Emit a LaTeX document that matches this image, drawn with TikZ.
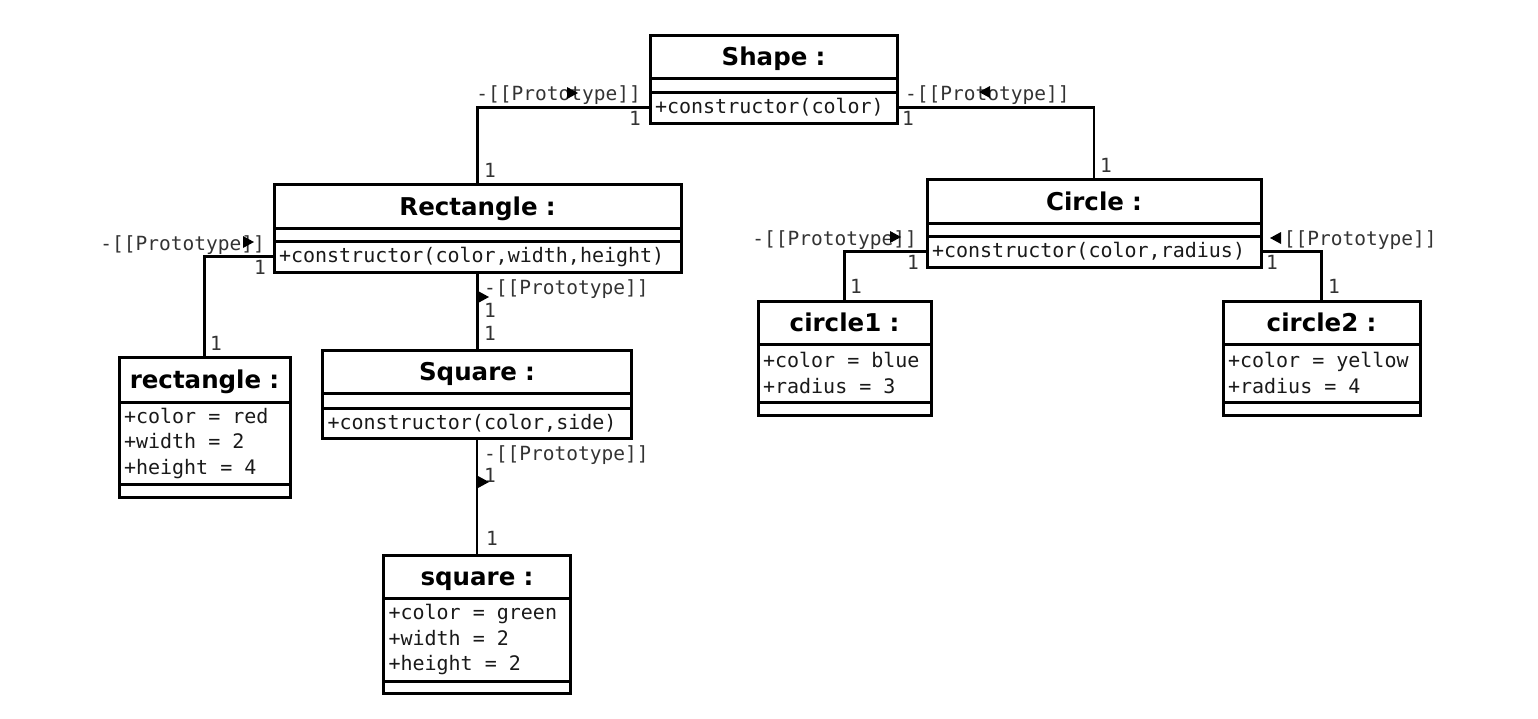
\documentclass[tikz,border=0pt]{standalone}
\usepackage{fontspec}
\setmainfont{DejaVu Sans}
\setmonofont{DejaVu Sans Mono}
\usetikzlibrary{positioning}

\newcommand{\titlefont}{\bfseries\fontsize{24.5}{29}\selectfont}
\newcommand{\memberfont}{\ttfamily\fontsize{20}{25.5}\selectfont}
\newcommand{\rolefont}{\ttfamily\fontsize{19.5}{22}\selectfont}
\newcommand{\attr}[2]{+#1\hspace{0.602em}=\hspace{0.602em}#2}
\newcommand{\navtip}[3]{\fill[shift={(#1,#2)},rotate=#3] (6,0) -- (-5,-6) -- (-5,6) -- cycle;}

\begin{document}
\begin{tikzpicture}[x=1pt,y=-1pt,
  uml/.style={draw, line width=3pt, outer sep=0pt, inner xsep=5pt, inner ysep=0pt},
  boxw/.code={\pgfmathsetlengthmacro\boxtw{#1-10pt}\tikzset{minimum width=#1,text width=\boxtw}},
  clsname/.style={uml, align=center, font=\titlefont, text height=18pt, text depth=0pt},
  clsbody/.style={uml, align=left, font=\memberfont, text=black!90},
  assoc/.style={line width=2.4pt},
  role/.style={font=\rolefont, text=black!80, inner sep=0pt}]
\useasboundingbox (0,0) rectangle (1538,718);

\node[clsname, boxw=247pt, minimum height=43pt] (shape) at (773.5,56.5) {Shape :};
\node[clsbody, boxw=247pt, minimum height=14pt, below=0pt of shape] (shapeattr) {};
\node[clsbody, boxw=247pt, minimum height=31pt, below=0pt of shapeattr] (shapeops) {+constructor(color)};

\node[clsname, boxw=407pt, minimum height=44pt] (rect) at (477.5,206) {Rectangle :};
\node[clsbody, boxw=407pt, minimum height=13pt, below=0pt of rect] (rectattr) {};
\node[clsbody, boxw=407pt, minimum height=31pt, below=0pt of rectattr] (rectops) {+constructor(color,width,height)};

\node[clsname, boxw=334pt, minimum height=44pt] (circle) at (1094,201) {Circle :};
\node[clsbody, boxw=334pt, minimum height=13pt, below=0pt of circle] (circleattr) {};
\node[clsbody, boxw=334pt, minimum height=31pt, below=0pt of circleattr] (circleops) {+constructor(color,radius)};

\node[clsname, boxw=309pt, minimum height=43pt] (square) at (477,371.5) {Square :};
\node[clsbody, boxw=309pt, minimum height=15pt, below=0pt of square] (squareattr) {};
\node[clsbody, boxw=309pt, minimum height=30pt, below=0pt of squareattr] (squareops) {+constructor(color,side)};

\node[clsname, boxw=171pt, minimum height=45pt] (rectobj) at (204.5,379.5) {rectangle :};
\node[clsbody, boxw=171pt, minimum height=82pt, below=0pt of rectobj] (rectobjattr) {\attr{color}{red}\\\attr{width}{2}\\\attr{height}{4}};
\node[clsbody, boxw=171pt, minimum height=13pt, below=0pt of rectobjattr] (rectobjops) {};

\node[clsname, boxw=173pt, minimum height=43pt] (circleone) at (844.5,322.5) {circle1 :};
\node[clsbody, boxw=173pt, minimum height=58pt, below=0pt of circleone] (circleoneattr) {\attr{color}{blue}\\\attr{radius}{3}};
\node[clsbody, boxw=173pt, minimum height=13pt, below=0pt of circleoneattr] (circleoneops) {};

\node[clsname, boxw=197pt, minimum height=43pt] (circletwo) at (1321.5,322.5) {circle2 :};
\node[clsbody, boxw=197pt, minimum height=58pt, below=0pt of circletwo] (circletwoattr) {\attr{color}{yellow}\\\attr{radius}{4}};
\node[clsbody, boxw=197pt, minimum height=13pt, below=0pt of circletwoattr] (circletwoops) {};

\node[clsname, boxw=187pt, minimum height=43pt] (squareobj) at (477,576.5) {square :};
\node[clsbody, boxw=187pt, minimum height=83pt, below=0pt of squareobj] (squareobjattr) {\attr{color}{green}\\\attr{width}{2}\\\attr{height}{2}};
\node[clsbody, boxw=187pt, minimum height=12pt, below=0pt of squareobjattr] (squareobjops) {};

\draw[assoc] (shapeops.west) -| (rect.north);
\draw[assoc] (shapeops.east) -| (circle.north);
\draw[assoc] (rectops.west) -| (rectobj.north);
\draw[assoc] (rectops.south) -- (rectops.south |- square.north);
\draw[assoc] (squareops.south) -- (squareops.south |- squareobj.north);
\draw[assoc] (circleops.west) -| (circleone.north);
\draw[assoc] (circleops.east) -| (circletwo.north);

\node[role, anchor=base east] (role1) at (641,100) {-[[Prototype]]};
\node[role, anchor=base east] (m1a) at (641,125) {1};
\node[role, anchor=base west] (m1b) at (484,177) {1};
\navtip{572}{93}{0}

\node[role, anchor=base west] (role2) at (905,100) {-[[Prototype]]};
\node[role, anchor=base west] (m2a) at (902,125) {1};
\node[role, anchor=base west] (m2b) at (1100,172) {1};
\navtip{985}{92}{180}

\node[role, anchor=base east] (role3) at (265,250) {-[[Prototype]]};
\node[role, anchor=base east] (m3a) at (266,274) {1};
\node[role, anchor=base west] (m3b) at (210,350) {1};
\navtip{248}{242}{0}

\node[role, anchor=base west] (role4) at (484,294) {-[[Prototype]]};
\node[role, anchor=base west] (m4a) at (484,317) {1};
\node[role, anchor=base west] (m4b) at (484,340) {1};
\navtip{483}{297}{0}

\node[role, anchor=base west] (role5) at (484,460) {-[[Prototype]]};
\node[role, anchor=base west] (m5a) at (484,482) {1};
\node[role, anchor=base west] (m5b) at (486,545) {1};
\navtip{483}{482}{0}

\node[role, anchor=base east] (role6) at (917,245) {-[[Prototype]]};
\node[role, anchor=base east] (m6a) at (919,269) {1};
\node[role, anchor=base west] (m6b) at (850,293) {1};
\navtip{895}{237}{0}

\node[role, anchor=base west] (role7) at (1272,245) {-[[Prototype]]};
\node[role, anchor=base west] (m7a) at (1266,269) {1};
\node[role, anchor=base west] (m7b) at (1328,293) {1};
\navtip{1276}{238}{180}
\end{tikzpicture}
\end{document}
